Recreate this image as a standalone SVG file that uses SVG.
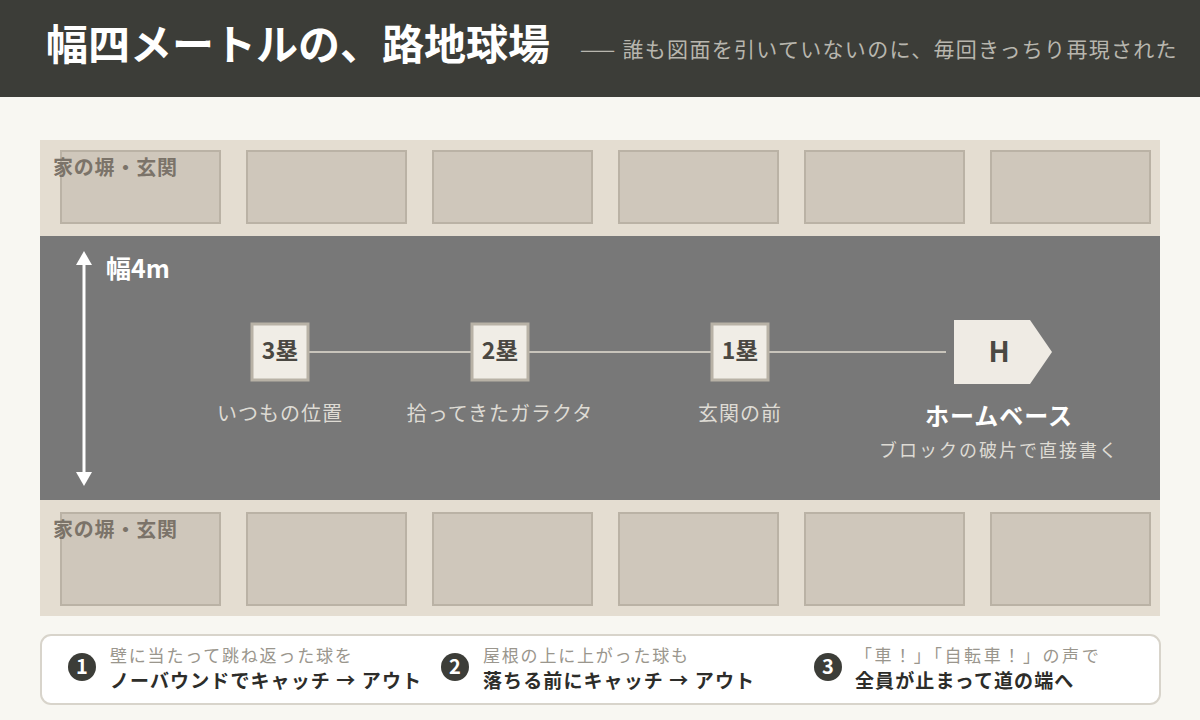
<svg xmlns="http://www.w3.org/2000/svg" width="1200" height="720" viewBox="0 0 1200 720">
<defs>
<style>
text{font-family:"Noto Sans CJK JP","Noto Sans",sans-serif}
.house{fill:#cfc7bb;stroke:#bab2a5;stroke-width:2}
.strip{fill:#e4ddd1}
.wall{font-size:20px;font-weight:700;fill:#7b7369;letter-spacing:0.8px}
.base rect{fill:#f0ede6;stroke:#b8b2a6;stroke-width:3}
.base text{font-size:23px;font-weight:700;fill:#4a4842;text-anchor:middle}
.note{font-size:20px;fill:#dedbd4;text-anchor:middle;letter-spacing:1px}
.num circle{fill:#3c3d38}
.num text{font-size:20px;font-weight:700;fill:#fff;text-anchor:middle}
.l1{font-size:17px;fill:#9a968d;letter-spacing:1.8px}
.l2{font-size:19px;font-weight:700;fill:#2d2d2a;letter-spacing:1.1px}
</style>
</defs>
<rect width="1200" height="720" fill="#f8f7f2"/>
<g id="header">
<rect x="0" y="0" width="1200" height="97" fill="#3c3d38"/>
<text x="46" y="60" font-size="42" font-weight="700" fill="#ffffff">幅四メートルの、路地球場</text>
<text x="580" y="57" font-size="21" fill="#b8b6ae" letter-spacing="1.3">—— 誰も図面を引いていないのに、毎回きっちり再現された</text>
</g>
<g id="top-houses">
<rect class="strip" x="40" y="140" width="1120" height="96"/>
<rect class="house" x="61" y="151" width="159" height="72"/>
<rect class="house" x="247" y="151" width="159" height="72"/>
<rect class="house" x="433" y="151" width="159" height="72"/>
<rect class="house" x="619" y="151" width="159" height="72"/>
<rect class="house" x="805" y="151" width="159" height="72"/>
<rect class="house" x="991" y="151" width="159" height="72"/>
<text class="wall" x="53" y="175">家の塀・玄関</text>
</g>
<g id="road">
<rect x="40" y="236" width="1120" height="264" fill="#787878"/>
</g>
<g id="bottom-houses">
<rect class="strip" x="40" y="500" width="1120" height="116"/>
<rect class="house" x="61" y="513" width="159" height="92"/>
<rect class="house" x="247" y="513" width="159" height="92"/>
<rect class="house" x="433" y="513" width="159" height="92"/>
<rect class="house" x="619" y="513" width="159" height="92"/>
<rect class="house" x="805" y="513" width="159" height="92"/>
<rect class="house" x="991" y="513" width="159" height="92"/>
<text class="wall" x="53" y="537">家の塀・玄関</text>
</g>
<g id="width-indicator">
<line x1="84" y1="264" x2="84" y2="474" stroke="#ffffff" stroke-width="3"/>
<path d="M84,251 L92,265 L76,265 z" fill="#ffffff"/>
<path d="M84,486 L92,472 L76,472 z" fill="#ffffff"/>
<text x="106" y="278" font-size="25" font-weight="700" fill="#ffffff">幅4m</text>
</g>
<g id="connectors">
<line x1="308" y1="352" x2="946" y2="352" stroke="#c8c4bb" stroke-width="2"/>
</g>
<g id="base3" class="base">
<rect x="252" y="324" width="56" height="56"/>
<text x="280" y="359">3塁</text>
</g>
<g id="base2" class="base">
<rect x="472" y="324" width="56" height="56"/>
<text x="500" y="359">2塁</text>
</g>
<g id="base1" class="base">
<rect x="712" y="324" width="56" height="56"/>
<text x="740" y="359">1塁</text>
</g>
<g id="home">
<polygon points="954,320 1030,320 1052,352 1030,384 954,384" fill="#efebe4"/>
<text x="999" y="362" font-size="28" font-weight="700" fill="#4a4842" text-anchor="middle">H</text>
<text x="999" y="425" font-size="24" font-weight="700" fill="#ffffff" text-anchor="middle" letter-spacing="1">ホームベース</text>
<text x="999" y="457" font-size="18" fill="#dedbd4" text-anchor="middle" letter-spacing="2">ブロックの破片で直接書く</text>
</g>
<g id="labels">
<text class="note" x="280" y="421">いつもの位置</text>
<text class="note" x="500" y="421">拾ってきたガラクタ</text>
<text class="note" x="740" y="421">玄関の前</text>
</g>
<g id="legend">
<rect x="41" y="635" width="1119" height="69" rx="10" fill="#ffffff" stroke="#d8d4cb" stroke-width="2"/>
<g class="num"><circle cx="82" cy="667" r="14"/><text x="82" y="674">1</text></g>
<text class="l1" x="110" y="662">壁に当たって跳ね返った球を</text>
<text class="l2" x="110" y="688">ノーバウンドでキャッチ → アウト</text>
<g class="num"><circle cx="455" cy="667" r="14"/><text x="455" y="674">2</text></g>
<text class="l1" x="483" y="662">屋根の上に上がった球も</text>
<text class="l2" x="483" y="688">落ちる前にキャッチ → アウト</text>
<g class="num"><circle cx="828" cy="667" r="14"/><text x="828" y="674">3</text></g>
<text class="l1" x="855" y="662" style="letter-spacing:2.6px">「車！」「自転車！」の声で</text>
<text class="l2" x="855" y="688">全員が止まって道の端へ</text>
</g>
</svg>
